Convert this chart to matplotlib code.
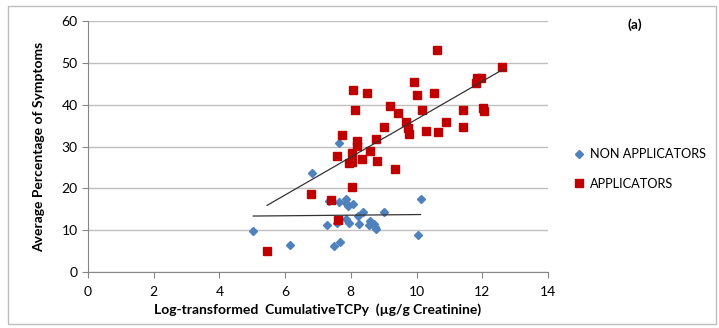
import numpy as np
import matplotlib
matplotlib.use("Agg")
import matplotlib.pyplot as plt
from matplotlib.patches import Rectangle

plt.rcParams['font.family'] = ['Lato', 'DejaVu Sans']

# NON APPLICATORS (blue diamonds)
non_x = [7.65, 6.83, 7.34, 7.65, 7.86, 7.84, 7.92, 8.08, 10.12, 8.38, 9.01, 8.22, 7.86, 7.93,
         7.57, 7.27, 8.26, 8.57, 8.55, 8.69, 8.73, 8.78, 5.03, 10.04, 6.16, 7.50, 7.68]
non_y = [30.8, 23.6, 17.0, 16.8, 17.4, 16.4, 15.8, 16.3, 17.4, 14.3, 14.4, 13.5, 12.6, 11.8,
         11.6, 11.2, 11.5, 12.3, 11.2, 11.5, 10.8, 10.2, 9.8, 8.9, 6.4, 6.1, 7.2]

# APPLICATORS (red squares)
app_x = [10.62, 12.61, 11.83, 11.95, 11.80, 8.06, 8.49, 9.91, 10.01, 10.54, 8.13, 9.20, 9.43,
         10.16, 11.42, 12.03, 12.06, 9.02, 9.69, 9.75, 9.76, 10.30, 10.65, 10.89, 11.42, 7.73,
         8.20, 8.76, 8.20, 8.58, 7.59, 8.04, 7.94, 8.03, 8.34, 8.79, 9.33, 6.80, 8.04, 7.39,
         7.62, 5.45]
app_y = [53.1, 49.1, 46.4, 46.4, 45.1, 43.4, 42.9, 45.3, 42.2, 42.9, 38.8, 39.7, 37.9,
         38.7, 38.7, 39.3, 38.5, 34.7, 35.9, 34.4, 33.1, 33.8, 33.4, 35.8, 34.7, 32.7,
         31.2, 31.7, 30.1, 28.9, 27.7, 28.4, 26.1, 26.4, 26.9, 26.5, 24.6, 18.6, 20.4, 17.1,
         12.4, 5.0]

def main():
    fig = plt.figure(figsize=(7.19, 3.28), dpi=100)
    fig.patches.append(Rectangle((8 / 719, 4 / 328), 708 / 719, 318 / 328, transform=fig.transFigure,
                                 fill=False, edgecolor='#BDBDBD', lw=1))
    ax = fig.add_axes([88 / 719, 56 / 328, 460 / 719, 251 / 328])

    ax.set_xlim(0, 14)
    ax.set_ylim(0, 60)
    ax.set_xticks(np.arange(0, 15, 2))
    ax.set_yticks(np.arange(0, 61, 10))
    ax.yaxis.grid(True, color='#BFBFBF', lw=1)
    ax.set_axisbelow(True)
    for s in ['top', 'right']:
        ax.spines[s].set_visible(False)
    for s in ['left', 'bottom']:
        ax.spines[s].set_color('#868686')
    ax.tick_params(axis='both', colors='#868686', labelcolor='black', labelsize=10, length=4)
    ax.tick_params(axis='x', pad=6)

    ax.plot(non_x, non_y, 'D', color='#4F81BD', ms=4.2, label='NON APPLICATORS', zorder=3)
    ax.plot(app_x, app_y, 's', color='#C00000', ms=5.8, label='APPLICATORS', zorder=3)

    # linear trendlines
    for xs, ys in [(non_x, non_y), (app_x, app_y)]:
        m, b = np.polyfit(xs, ys, 1)
        xx = np.array([min(xs), max(xs)])
        ax.plot(xx, m * xx + b, color='#333333', lw=0.9, zorder=4)

    ax.set_xlabel('Log-transformed  CumulativeTCPy  (µg/g Creatinine)', fontweight='bold', fontsize=10)
    ax.set_ylabel('Average Percentage of Symptoms', fontweight='bold', fontsize=10, labelpad=12)

    ax.legend(loc='center left', bbox_to_anchor=(1.035, 0.41), frameon=False, fontsize=9.2,
              handlelength=0.6, handletextpad=0.5, labelspacing=1.35)
    fig.text(635 / 719, 1 - 25 / 328, '(a)', fontweight='bold', fontsize=10, ha='center', va='center')

    fig.savefig('out.png', dpi=100)

if __name__ == "__main__":
    main()
